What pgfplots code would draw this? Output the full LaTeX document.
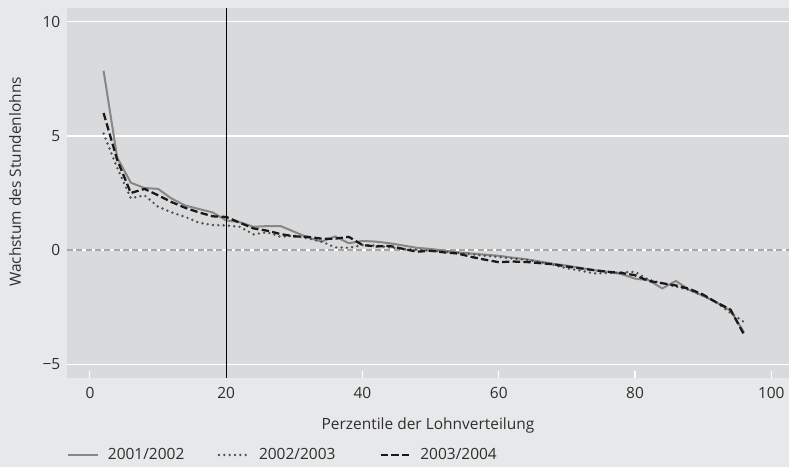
\documentclass[border=0pt]{standalone}
\usepackage{fontspec}
\setmainfont{Open Sans}
\usepackage{pgfplots}
\pgfplotsset{compat=1.18}
\definecolor{outerbg}{HTML}{E7E8E9}
\definecolor{plotbg}{HTML}{D9DADB}
\definecolor{txt}{HTML}{2E2E2E}
\definecolor{solidc}{HTML}{878787}
\definecolor{dotc}{HTML}{505050}
\definecolor{zeroc}{HTML}{A6A6A6}
\begin{document}
\fontsize{11.6pt}{14pt}\selectfont
\begin{tikzpicture}
\fill[outerbg] (0,0) rectangle (591.75pt,350.25pt);
\useasboundingbox (0,0) rectangle (591.75pt,350.25pt);
\begin{axis}[
  at={(50.25pt,66.75pt)}, anchor=south west,
  width=541.5pt, height=277.5pt, scale only axis,
  xmin=-3.37, xmax=102.6, ymin=-5.6, ymax=10.6,
  axis background/.style={fill=plotbg},
  axis line style={draw=none},
  xtick={0,20,40,60,80,100},
  ytick={-5,0,5,10},
  yticklabels={−5,0,5,10},
  xtick pos=lower, ytick pos=left,
  tick align=inside,
  major tick length=5pt,
  xtick style={draw=white, line width=0.8pt},
  ytick style={draw=none},
  ymajorgrids, grid style={draw=white, line width=1.1pt},
  /pgf/number format/assume math mode=true,
  every tick label/.append style={text=txt},
  xticklabel style={yshift=-3pt},
  yticklabel style={xshift=-1pt},
  xlabel={Perzentile der Lohnverteilung},
  ylabel={Wachstum des Stundenlohns},
  xlabel style={at={(axis description cs:0.5,-0.127)}, anchor=center, text=txt},
  ylabel style={at={(axis description cs:-0.072,0.53)}, anchor=center, text=txt},
  legend columns=3,
  legend style={at={(axis description cs:0,-0.208)}, anchor=west, fill=none, draw=none,
    inner sep=0pt, text=txt,
    /tikz/every odd column/.append style={column sep=5pt},
    /tikz/every even column/.append style={column sep=23pt}},
  legend image code/.code={\draw[#1] (0pt,0pt) -- (22pt,0pt);},
  clip=false,
]
\draw[white, line width=1.1pt] (axis cs:-3.37,0) -- (axis cs:102.6,0);
\draw[zeroc, line width=1.1pt, dash pattern=on 4.5pt off 2.5pt] (axis cs:-3.37,0) -- (axis cs:102.6,0);

\addplot[solidc, line width=1.5pt, line join=round] coordinates {
(2,7.85) (4,4.05) (6,2.95) (8,2.72) (10,2.68) (12,2.25) (14,1.95) (16,1.8) (18,1.65) (20,1.3)
(22,1.22) (24,1.02) (26,1.05) (28,1.05) (30,0.8) (32,0.55) (34,0.37) (36,0.6) (38,0.3) (40,0.4)
(42,0.37) (44,0.3) (46,0.2) (48,0.1) (50,0.05) (52,-0.02) (54,-0.1) (56,-0.15) (58,-0.2) (60,-0.25)
(62,-0.33) (64,-0.4) (66,-0.5) (68,-0.6) (70,-0.68) (72,-0.78) (74,-0.88) (76,-0.95) (78,-1.05) (80,-1.25)
(82,-1.32) (84,-1.68) (86,-1.35) (88,-1.75) (90,-2.0) (92,-2.3) (94,-2.65) (96,-3.6)
};
\addlegendentry{2001/2002}

\addplot[dotc, line width=2pt, line cap=round, dash pattern=on 0pt off 4pt] coordinates {
(2,5.1) (4,3.6) (6,2.27) (8,2.4) (10,1.9) (12,1.65) (14,1.45) (16,1.2) (18,1.1) (20,1.08)
(22,1.02) (24,0.69) (26,0.78) (28,0.58) (30,0.63) (32,0.51) (34,0.37) (36,0.12) (38,0.1) (40,0.22)
(42,0.2) (44,0.12) (46,0.05) (48,0.02) (50,-0.03) (52,-0.07) (54,-0.12) (56,-0.18) (58,-0.25) (60,-0.3)
(62,-0.37) (64,-0.42) (66,-0.52) (68,-0.65) (70,-0.8) (72,-0.9) (74,-1.02) (76,-1.0) (78,-0.98) (80,-0.95)
(82,-1.3) (84,-1.45) (86,-1.6) (88,-1.75) (90,-2.0) (92,-2.3) (94,-2.75) (96,-3.15)
};
\addlegendentry{2002/2003\hspace*{8pt}}

\addplot[black!90, line width=1.7pt, dash pattern=on 5.5pt off 2.5pt] coordinates {
(2,6.0) (4,3.95) (6,2.5) (8,2.68) (10,2.4) (12,2.1) (14,1.85) (16,1.65) (18,1.48) (20,1.45)
(22,1.2) (24,0.95) (26,0.85) (28,0.7) (30,0.6) (32,0.58) (34,0.5) (36,0.5) (38,0.58) (40,0.22)
(42,0.16) (44,0.18) (46,0.05) (48,-0.07) (50,-0.03) (52,-0.1) (54,-0.15) (56,-0.3) (58,-0.42) (60,-0.53)
(62,-0.5) (64,-0.52) (66,-0.57) (68,-0.62) (70,-0.72) (72,-0.8) (74,-0.88) (76,-0.95) (78,-1.0) (80,-1.1)
(82,-1.35) (84,-1.45) (86,-1.55) (88,-1.7) (90,-1.95) (92,-2.3) (94,-2.6) (96,-3.7)
};
\addlegendentry{2003/2004}

\draw[black, line width=0.7pt] (axis cs:20,-5.6) -- (axis cs:20,10.6);
\end{axis}
\end{tikzpicture}
\end{document}
